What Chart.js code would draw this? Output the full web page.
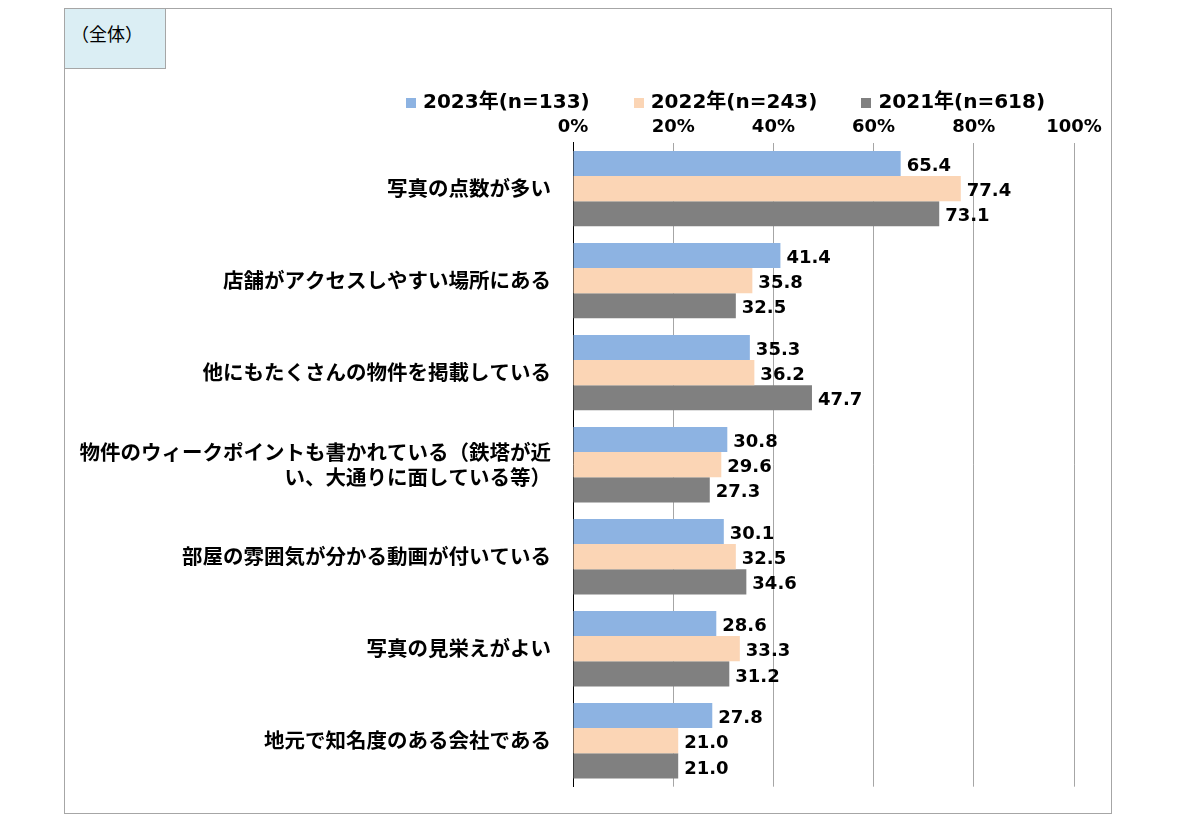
<!DOCTYPE html>
<html><head><meta charset="utf-8">
<script src="https://cdn.jsdelivr.net/npm/chart.js@4"></script>
<style>
body{margin:0;background:#fff;font-family:"Noto Sans CJK JP",sans-serif;}
#frame{position:absolute;left:64px;top:8px;width:1046px;height:804px;border:1px solid #a6a6a6;}
#tag{position:absolute;left:0;top:0;width:100px;height:59px;background:#dbeef4;border-right:1px solid #a6a6a6;border-bottom:1px solid #a6a6a6;font-size:18px;line-height:48px;text-indent:6px;}
#legend{position:absolute;left:341px;top:76px;font-weight:bold;font-size:20px;white-space:nowrap;font-family:"DejaVu Sans","Noto Sans CJK JP",sans-serif;}
#legend span{margin-right:44px;}
#legend i{display:inline-block;width:10px;height:10px;margin-right:7px;}
#c{position:absolute;left:0;top:0;}
</style></head><body>
<div id="frame"><canvas id="c" width="1046" height="804"></canvas><div id="tag">（全体）</div>
<div id="legend"><span><i style="background:#8db3e2"></i>2023年(n=133)</span><span><i style="background:#fbd5b5"></i>2022年(n=243)</span><span><i style="background:#808080"></i>2021年(n=618)</span></div></div>
<script>
const categories = [
  ["写真の点数が多い"],
  ["店舗がアクセスしやすい場所にある"],
  ["他にもたくさんの物件を掲載している"],
  ["物件のウィークポイントも書かれている（鉄塔が近", "い、大通りに面している等）"],
  ["部屋の雰囲気が分かる動画が付いている"],
  ["写真の見栄えがよい"],
  ["地元で知名度のある会社である"]
];
const y2023 = [65.4, 41.4, 35.3, 30.8, 30.1, 28.6, 27.8];
const y2022 = [77.4, 35.8, 36.2, 29.6, 32.5, 33.3, 21.0];
const y2021 = [73.1, 32.5, 47.7, 27.3, 34.6, 31.2, 21.0];

const labelPlugin = {
  id: 'vals',
  afterDatasetsDraw(chart) {
    const ctx = chart.ctx;
    ctx.save();
    ctx.font = 'bold 18px "DejaVu Sans"';
    ctx.fillStyle = '#000';
    ctx.textBaseline = 'middle';
    chart.data.datasets.forEach((ds, i) => {
      chart.getDatasetMeta(i).data.forEach((bar, j) => {
        ctx.fillText(ds.data[j].toFixed(1), bar.x + 6, bar.y + 3);
      });
    });
    ctx.restore();
  }
};

new Chart(document.getElementById('c'), {
  type: 'bar',
  data: {
    labels: categories,
    datasets: [
      {label: '2023年(n=133)', data: y2023, backgroundColor: '#8db3e2'},
      {label: '2022年(n=243)', data: y2022, backgroundColor: '#fbd5b5'},
      {label: '2021年(n=618)', data: y2021, backgroundColor: '#808080'}
    ]
  },
  options: {
    indexAxis: 'y',
    responsive: false,
    animation: false,
    layout: {padding: {top: 104, right: 37, bottom: 22}},
    datasets: {bar: {categoryPercentage: 0.82, barPercentage: 1}},
    plugins: {legend: {display: false}, tooltip: {enabled: false}},
    scales: {
      x: {
        position: 'top', min: 0, max: 100,
        ticks: {stepSize: 20, callback: v => v + '%', color: '#000', font: {size: 18, weight: 'bold', family: 'DejaVu Sans'}, padding: 4},
        grid: {color: '#a6a6a6', drawTicks: false},
        border: {display: false}
      },
      y: {
        afterFit: s => { s.width = 508; },
        ticks: {color: '#000', font: {size: 20.5, weight: 'bold', family: 'Noto Sans CJK JP'}, padding: 14},
        grid: {display: false},
        border: {color: '#000'}
      }
    }
  },
  plugins: [labelPlugin]
});
</script></body></html>
